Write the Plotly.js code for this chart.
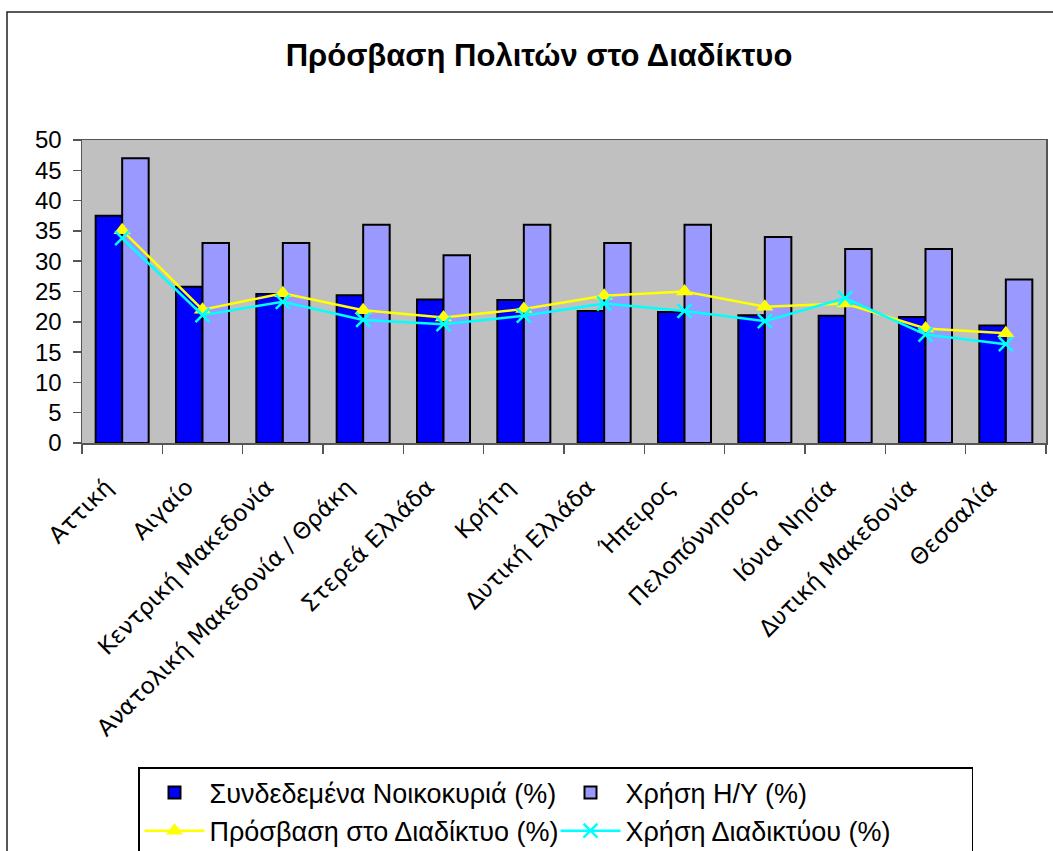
<!DOCTYPE html>
<html>
<head>
<meta charset="utf-8">
<script src="https://cdn.plot.ly/plotly-3.0.1.min.js"></script>
<style>html,body{margin:0;padding:0;background:#fff;overflow:hidden;}#chart{width:1053px;height:851px;}</style>
</head>
<body>
<div id="chart"></div>
<script>
const regions = ["Αττική", "Αιγαίο", "Κεντρική Μακεδονία", "Ανατολική Μακεδονία / Θράκη", "Στερεά Ελλάδα", "Κρήτη", "Δυτική Ελλάδα", "Ήπειρος", "Πελοπόννησος", "Ιόνια Νησία", "Δυτική Μακεδονία", "Θεσσαλία"];
const connectedHouseholds = [37.5, 25.8, 24.6, 24.4, 23.7, 23.6, 21.8, 21.6, 21.1, 21.0, 20.8, 19.4];
const computerUse = [47, 33, 33, 36, 31, 36, 33, 36, 34, 32, 32, 27];
const internetAccess = [35.1, 22.0, 24.7, 21.9, 20.7, 22.1, 24.3, 25.0, 22.5, 23.0, 18.9, 18.1];
const internetUse = [33.8, 21.1, 23.3, 20.3, 19.6, 21.0, 23.0, 21.8, 20.1, 23.9, 17.9, 16.3];
const seriesNames = ["Συνδεδεμένα Νοικοκυριά (%)", "Χρήση Η/Υ (%)", "Πρόσβαση στο Διαδίκτυο (%)", "Χρήση Διαδικτύου (%)"];
const chartTitle = "Πρόσβαση Πολιτών στο Διαδίκτυο";

const traces = [
  {type: "bar", name: seriesNames[0], x: regions, y: connectedHouseholds,
   marker: {color: "#0000FF", line: {color: "#000000", width: 2}}},
  {type: "bar", name: seriesNames[1], x: regions, y: computerUse,
   marker: {color: "#9999FF", line: {color: "#000000", width: 2}}},
  {type: "scatter", mode: "lines+markers", name: seriesNames[2], x: regions, y: internetAccess,
   line: {color: "#FFFF00", width: 2.5},
   marker: {symbol: "triangle-up", size: 15, color: "#FFFF00"}},
  {type: "scatter", mode: "lines+markers", name: seriesNames[3], x: regions, y: internetUse,
   line: {color: "#00FFFF", width: 2.5},
   marker: {symbol: "x-thin", size: 14, color: "#00FFFF", line: {color: "#00FFFF", width: 2.5}}}
];

const L = 82, R = 1046, T = 140, B = 443;
const W = R - L, H = B - T;
const px = v => (v - L) / W;
const py = v => (B - v) / H;

const layout = {
  width: 1053, height: 851,
  margin: {l: L, r: 1053 - R, t: T, b: 851 - B},
  paper_bgcolor: "#FFFFFF",
  plot_bgcolor: "#C0C0C0",
  showlegend: true,
  hovermode: false,
  barmode: "group",
  bargap: 0.34,
  bargroupgap: 0,
  title: {text: "<b>" + chartTitle + "</b>", x: 539 / 1053, xanchor: "center", y: 1 - 55 / 851, yanchor: "middle",
          font: {family: "Liberation Sans, Arial, sans-serif", size: 31, color: "#000"}},
  xaxis: {
    type: "category",
    range: [-0.5, regions.length - 0.5],
    tickangle: -45,
    ticks: "outside", ticklen: 9, tickcolor: "#555", tickwidth: 1.5,
    tickson: "boundaries",
    ticklabelshift: -16,
    ticklabelstandoff: 20,
    showgrid: false,
    showline: true, linecolor: "#555", linewidth: 1.5, mirror: true,
    tickfont: {family: "DejaVu Sans, Verdana, sans-serif", size: 23, color: "#000"},
    automargin: false
  },
  yaxis: {
    range: [0, 50], dtick: 5, tick0: 0,
    ticks: "outside", ticklen: 8, tickcolor: "#555", tickwidth: 1.5,
    ticklabelstandoff: 6,
    showgrid: false, zeroline: false,
    showline: true, linecolor: "#555", linewidth: 1.5, mirror: true,
    tickfont: {family: "Liberation Sans, Arial, sans-serif", size: 24, color: "#000"},
    automargin: false
  },
  legend: {
    orientation: "h",
    xref: "container", yref: "container",
    x: 138 / 1053, xanchor: "left",
    y: 1 - 767 / 851, yanchor: "top",
    bgcolor: "#FFFFFF",
    bordercolor: "#000000", borderwidth: 1.5,
    entrywidth: 341, entrywidthmode: "pixels",
    itemwidth: 60,
    font: {family: "Liberation Sans, Arial, sans-serif", size: 27, color: "#000"},
    traceorder: "normal"
  },
  shapes: [
    {type: "rect", xref: "paper", yref: "paper", x0: px(7), x1: px(1062), y0: py(870), y1: py(12),
     line: {color: "#222222", width: 1.5}, fillcolor: "rgba(0,0,0,0)", layer: "below"}
  ]
};

Plotly.newPlot("chart", traces, layout, {displayModeBar: false, staticPlot: true});
</script>
</body>
</html>
